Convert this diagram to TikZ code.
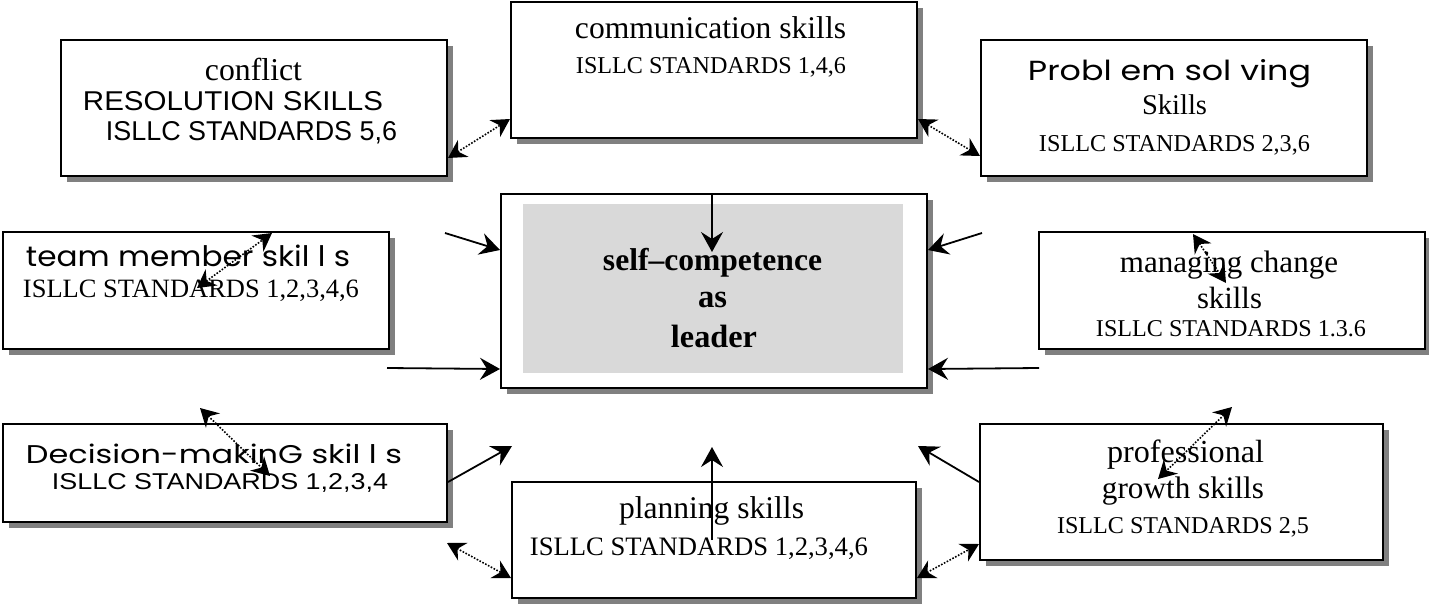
\documentclass[tikz,border=0pt]{standalone}
\usepackage{fontspec}
\usepackage{graphicx}
\setmainfont{Liberation Serif}
\newfontfamily\arialfont{Liberation Sans}
\newfontfamily\roundfont{Poppins}
\usetikzlibrary{arrows.meta,shadows}

\definecolor{shadowgray}{HTML}{808080}
\definecolor{corefill}{HTML}{D9D9D9}

% one line of text, scaled to a given width (in pt)
\newcommand{\fitline}[2]{\resizebox{#1pt}{!}{#2}}
% one line of text, scaled to a given width and height (in pt)
\newcommand{\fitbox}[3]{\resizebox{#1pt}{#2pt}{#3}}

\tikzset{
  skillbox/.style={draw=black, line width=2pt, fill=white, rectangle, inner sep=0pt,
    drop shadow={shadow xshift=6pt, shadow yshift=-6pt, fill=shadowgray, opacity=1}},
  txt/.style={anchor=base, inner sep=0pt},
  solidarrow/.style={line width=1.8pt, -{Stealth[length=20pt,width=22pt,inset=7pt]}},
  dotarrow/.style={line width=1.6pt, dash pattern=on 1.6pt off 1.6pt,
    {Stealth[length=18pt,width=20pt,inset=6pt]}-{Stealth[length=18pt,width=20pt,inset=6pt]}},
}

\begin{document}
\begin{tikzpicture}[x=1pt,y=-1pt]
\useasboundingbox (0,0) rectangle (1429,605);

% ---- boxes ----
\node[skillbox, minimum width=386pt, minimum height=136pt] (conflict) at (254,108) {};
\node[skillbox, minimum width=406pt, minimum height=136pt] (comm) at (714,70) {};
\node[skillbox, minimum width=386pt, minimum height=136pt] (problem) at (1174,108) {};
\node[skillbox, minimum width=386pt, minimum height=117pt] (team) at (196,290.5) {};
\node[skillbox, minimum width=386pt, minimum height=117pt] (managing) at (1232,290.5) {};
\node[skillbox, minimum width=444pt, minimum height=98pt] (decision) at (225,473) {};
\node[skillbox, minimum width=404pt, minimum height=116pt] (planning) at (714,540) {};
\node[skillbox, minimum width=403pt, minimum height=136pt] (professional) at (1181.5,492) {};
\node[skillbox, minimum width=426pt, minimum height=194pt] (hub) at (714,291) {};
\node[fill=corefill, inner sep=0pt, minimum width=380pt, minimum height=169pt] (core) at (713,288.5) {};

% ---- texts ----
\node[txt] (t1a) at (253.5,80) {\fitline{97}{conflict}};
\node[txt] (t1b) at (233,110) {\fitbox{300}{19}{\arialfont RESOLUTION SKILLS}};
\node[txt] (t1c) at (251.5,140) {\fitbox{291}{19}{\arialfont ISLLC STANDARDS 5,6}};

\node[txt] (t2a) at (710.5,38) {\fitline{271}{communication skills}};
\node[txt] (t2b) at (711,73) {\fitline{270}{ISLLC STANDARDS 1,4,6}};

\node[txt] (t3a) at (1169.5,80) {\fitbox{283}{21}{\roundfont Probl em sol ving}};
\node[txt] (t3b) at (1174.5,114) {\fitline{65}{Skills}};
\node[txt] (t3c) at (1174.5,151) {\fitline{271}{ISLLC STANDARDS 2,3,6}};

\node[txt] (t4a) at (188,266) {\fitbox{324}{21.5}{\roundfont team member skil l s}};
\node[txt] (t4b) at (191,297) {\fitline{336}{ISLLC STANDARDS 1,2,3,4,6}};

\node[txt] (t5a) at (1229,272) {\fitline{218}{managing change}};
\node[txt] (t5b) at (1229.5,308) {\fitline{65}{skills}};
\node[txt] (t5c) at (1231,336) {\fitline{270}{ISLLC STANDARDS 1.3.6}};

\node[txt] (t6a) at (214,463) {\fitbox{376}{19.5}{\roundfont Decision-makinG skil l s}};
\node[txt] (t6b) at (220,489) {\fitbox{336}{16}{\arialfont ISLLC STANDARDS 1,2,3,4}};

\node[txt] (t7a) at (711.5,518) {\fitline{185}{planning skills}};
\node[txt] (t7b) at (699,555) {\fitline{338}{ISLLC STANDARDS 1,2,3,4,6}};

\node[txt] (t8a) at (1185.5,462) {\fitline{157}{professional}};
\node[txt] (t8b) at (1183,498) {\fitline{162}{growth skills}};
\node[txt] (t8c) at (1183,533) {\fitline{252}{ISLLC STANDARDS 2,5}};

\node[txt] (t9a) at (712.5,270) {\fitline{219}{\bfseries self–competence}};
\node[txt] (t9b) at (712.5,307) {\fitline{29}{\bfseries as}};
\node[txt] (t9c) at (714,347) {\fitline{86}{\bfseries leader}};

% ---- free ends of connectors ----
\coordinate (s1tip) at (712,252);
\coordinate (s2a) at (445,233);
\coordinate (s3a) at (387,368);
\coordinate (s4a) at (982,233);
\coordinate (s5a) at (1039,368);
\coordinate (s6tip) at (512,446);
\coordinate (s7tip) at (712,447);
\coordinate (s8tip) at (918,446);
\coordinate (d3a) at (197,288);
\coordinate (d3b) at (272,233);
\coordinate (d4a) at (1193,234);
\coordinate (d4b) at (1226,283);
\coordinate (d5a) at (200,408);
\coordinate (d5b) at (270,476);
\coordinate (d6a) at (447,543);
\coordinate (d8a) at (1232,407);
\coordinate (d8b) at (1158,479);

% ---- solid connectors into the centre ----
\draw[solidarrow] ([xshift=-2pt]hub.north) -- (s1tip);
\draw[solidarrow] (s2a) -- ([yshift=-57pt]hub.north west);
\draw[solidarrow] (s3a) -- ([yshift=20pt]hub.south west);
\draw[solidarrow] (s4a) -- ([yshift=-57pt]hub.north east);
\draw[solidarrow] (s5a) -- ([yshift=20pt]hub.south east);
\draw[solidarrow] ([yshift=-9pt]decision.east) -- (s6tip);
\draw[solidarrow] ([xshift=-2pt]planning.center) -- (s7tip);
\draw[solidarrow] ([yshift=10pt]professional.west) -- (s8tip);

% ---- dotted two-way connectors ----
\draw[dotarrow] ([yshift=19pt]conflict.south east) -- ([yshift=20pt]comm.south west);
\draw[dotarrow] ([yshift=20pt]comm.south east) -- ([yshift=21pt]problem.south west);
\draw[dotarrow] (d3a) -- (d3b);
\draw[dotarrow] (d4a) -- (d4b);
\draw[dotarrow] (d5a) -- (d5b);
\draw[dotarrow] (d6a) -- ([yshift=21pt]planning.south west);
\draw[dotarrow] ([yshift=21pt]planning.south east) -- ([yshift=17pt]professional.south west);
\draw[dotarrow] (d8a) -- (d8b);
\end{tikzpicture}
\end{document}
